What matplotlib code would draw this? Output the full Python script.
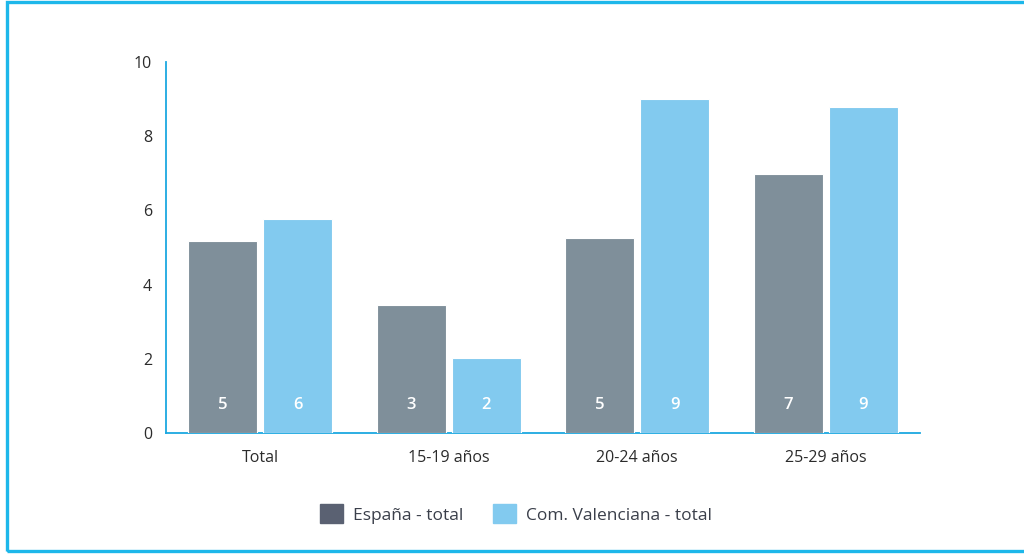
import matplotlib.pyplot as plt
import numpy as np
from matplotlib.patches import Rectangle, Patch

categories = ["Total", "15-19 años", "20-24 años", "25-29 años"]
espana = [5.17, 3.45, 5.26, 6.98]
valenciana = [5.77, 2.03, 9.0, 8.8]
espana_lbl = ["5", "3", "5", "7"]
valenciana_lbl = ["6", "2", "9", "9"]

GREY = "#7F8F9A"
GREY_LEG = "#5A6172"
BLUE = "#82CAEF"
SPINE = "#1BA8E0"
BORDER = "#1DB7EA"
TXT = "#2B2B2B"

plt.rcParams["font.family"] = ["Open Sans", "DejaVu Sans"]

fig = plt.figure(figsize=(10.24, 5.54), dpi=100)
W, H = 1024, 554
ax = fig.add_axes([166 / W, 1 - 433 / H, (920 - 166) / W, (433 - 62) / H])

x = np.arange(len(categories))
w = 0.366
b1 = ax.bar(x - 0.2, espana, width=w, color=GREY, edgecolor="white", linewidth=0.8, zorder=3)
b2 = ax.bar(x + 0.2, valenciana, width=w, color=BLUE, edgecolor="white", linewidth=0.8, zorder=3)

for bars, labs in ((b1, espana_lbl), (b2, valenciana_lbl)):
    for b, lab in zip(bars, labs):
        ax.text(b.get_x() + b.get_width() / 2, 0.75, lab, ha="center", va="center",
                color="white", fontsize=12, fontweight="semibold", zorder=4)

ax.set_xlim(-0.5, 3.5)
ax.set_ylim(0, 10)
ax.set_yticks([0, 2, 4, 6, 8, 10])
ax.set_xticks(x)
ax.set_xticklabels(categories)
ax.tick_params(axis="both", length=0, labelsize=11.5, colors=TXT)
ax.tick_params(axis="y", pad=10)
ax.tick_params(axis="x", pad=12)

for s in ("top", "right"):
    ax.spines[s].set_visible(False)
for s in ("left", "bottom"):
    ax.spines[s].set_color(SPINE)
    ax.spines[s].set_linewidth(1.3)

handles = [Patch(color=GREY_LEG, label="España - total"),
           Patch(color=BLUE, label="Com. Valenciana - total")]
fig.legend(handles=handles, loc="center", bbox_to_anchor=(516 / W, 1 - 514 / H),
           ncol=2, frameon=False, fontsize=12.5, handlelength=1.3, handleheight=1.3,
           handletextpad=0.6, columnspacing=1.7, labelcolor="#3A3F4A")

fig.patches.append(Rectangle((6.5 / W, 3.5 / H), 1.2, (552 - 3.5) / H, transform=fig.transFigure,
                             fill=False, edgecolor=BORDER, linewidth=2.4))

fig.savefig("out.png", dpi=100)
